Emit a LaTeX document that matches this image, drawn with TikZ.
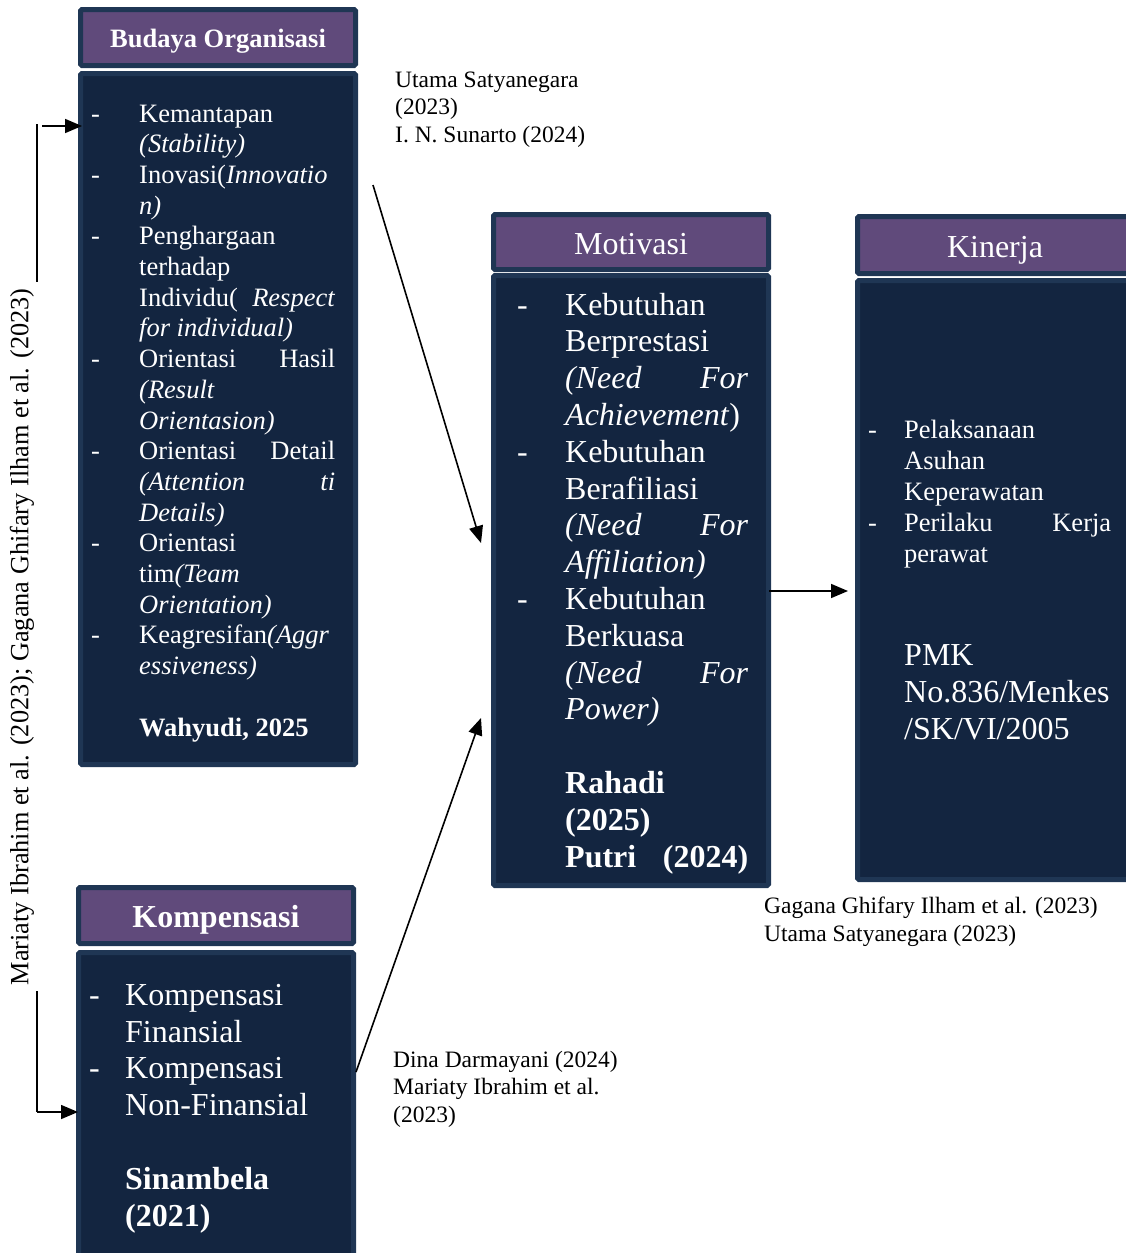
\documentclass[tikz,border=0pt]{standalone}
\usepackage{fontspec}
\setmainfont{Liberation Serif}
\usetikzlibrary{arrows.meta}
\definecolor{hdrfill}{RGB}{96,74,123}
\definecolor{navyline}{RGB}{31,54,84}
\definecolor{bodyfill}{RGB}{19,37,64}
\newcommand\dsh[1]{\makebox[#1][l]{-}}
\newcommand\ind[1]{\hspace*{#1}}
\begin{document}
\begin{tikzpicture}[x=1pt,y=-1pt,
  hdr/.style={draw=navyline, fill=hdrfill, line width=5pt, rounded corners=1.5pt,
    text=white, inner sep=0pt, text depth=0pt},
  bodybox/.style={draw=navyline, fill=bodyfill, line width=5pt, rounded corners=1.5pt,
    inner sep=0pt},
  txt/.style={text=white, inner sep=0pt, align=left, anchor=base west},
  cite/.style={inner sep=0pt, align=left, anchor=base west,
    font=\fontsize{23.5}{27.5}\selectfont},
  conn/.style={line width=1.6pt, -{Triangle[length=17pt,width=14pt]}},
  bracket/.style={line width=1.6pt}]
\useasboundingbox (0,0) rectangle (1126,1253);

% Budaya Organisasi
\node[hdr, minimum width=275pt, minimum height=56pt, text height=20pt,
  font=\fontsize{26.5}{30}\selectfont\bfseries] (bh) at (218,37.5) {Budaya Organisasi};
\node[bodybox, minimum width=275pt, minimum height=691pt] (bb) at (218,419) {};
\node[txt, font=\fontsize{26.5}{30.7}\selectfont] (bt) at (91,736) {%
\dsh{48pt}Kemantapan\\
\ind{48pt}\textit{(Stability)}\\
\dsh{48pt}Inovasi(\textit{Innovatio}\\
\ind{48pt}\textit{n)}\\
\dsh{48pt}Penghargaan\\
\ind{48pt}terhadap\\
\ind{48pt}\makebox[196pt][s]{Individu(\textit{ Respect}}\\
\ind{48pt}\textit{for individual)}\\
\dsh{48pt}\makebox[196pt][s]{Orientasi Hasil}\\
\ind{48pt}\textit{(Result}\\
\ind{48pt}\textit{Orientasion)}\\
\dsh{48pt}\makebox[196pt][s]{Orientasi Detail}\\
\ind{48pt}\makebox[196pt][s]{\textit{(Attention ti}}\\
\ind{48pt}\textit{Details)}\\
\dsh{48pt}Orientasi\\
\ind{48pt}tim\textit{(Team}\\
\ind{48pt}\textit{Orientation)}\\
\dsh{48pt}Keagresifan\textit{(Aggr}\\
\ind{48pt}\textit{essiveness)}\\
\mbox{}\\
\ind{48pt}\textbf{Wahyudi, 2025}};

% Motivasi
\node[hdr, minimum width=275pt, minimum height=55pt, text height=24pt,
  font=\fontsize{32}{36}\selectfont] (mh) at (631,242) {Motivasi};
\node[bodybox, minimum width=275pt, minimum height=610pt] (mb) at (631,580.5) {};
\node[txt, font=\fontsize{32}{36.8}\selectfont] (mt) at (517,867) {%
\dsh{48pt}Kebutuhan\\
\ind{48pt}Berprestasi\\
\ind{48pt}\makebox[183pt][s]{\textit{(Need For}}\\
\ind{48pt}\textit{Achievement})\\
\dsh{48pt}Kebutuhan\\
\ind{48pt}Berafiliasi\\
\ind{48pt}\makebox[183pt][s]{\textit{(Need For}}\\
\ind{48pt}\textit{Affiliation)}\\
\dsh{48pt}Kebutuhan\\
\ind{48pt}Berkuasa\\
\ind{48pt}\makebox[183pt][s]{\textit{(Need For}}\\
\ind{48pt}\textit{Power)}\\
\mbox{}\\
\ind{48pt}\textbf{Rahadi}\\
\ind{48pt}\textbf{(2025)}\\
\ind{48pt}\makebox[183pt][s]{\textbf{Putri (2024)}}};

% Kinerja
\node[hdr, minimum width=275pt, minimum height=57pt, text height=24pt,
  font=\fontsize{32}{36}\selectfont] (kh) at (995,245) {Kinerja};
\node[bodybox, minimum width=275pt, minimum height=599pt] (kb) at (995,580) {};
\node[txt, font=\fontsize{26.5}{30.8}\selectfont] (kt) at (868,562) {%
\dsh{36pt}Pelaksanaan\\
\ind{36pt}Asuhan\\
\ind{36pt}Keperawatan\\
\dsh{36pt}\makebox[207pt][s]{Perilaku Kerja}\\
\ind{36pt}perawat};
\node[txt, font=\fontsize{32}{36.8}\selectfont] (kp) at (904,739) {%
PMK\\
No.836/Menkes\\
/SK/VI/2005};

% Kompensasi
\node[hdr, minimum width=275pt, minimum height=56pt, text height=24pt,
  font=\fontsize{32}{36}\selectfont\bfseries] (ph) at (216,915.5) {Kompensasi};
\node[bodybox, minimum width=275pt, minimum height=315pt] (pb) at (216,1110) {};
\node[txt, font=\fontsize{32}{36.8}\selectfont] (pt) at (89,1226) {%
\dsh{36pt}Kompensasi\\
\ind{36pt}Finansial\\
\dsh{36pt}Kompensasi\\
\ind{36pt}Non-Finansial\\
\mbox{}\\
\ind{36pt}\textbf{Sinambela}\\
\ind{36pt}\textbf{(2021)}};

% Source notes
\node[cite] (c1) at (395,142) {Utama Satyanegara\\(2023)\\I. N. Sunarto (2024)};
\node[cite] (c2) at (764,941) {Gagana Ghifary Ilham et al. (2023)\\Utama Satyanegara (2023)};
\node[cite] (c3) at (393,1122) {Dina Darmayani (2024)\\Mariaty Ibrahim et al.\\(2023)};
\node[inner sep=0pt, rotate=90, font=\fontsize{26.3}{30}\selectfont] (side) at (22,637)
  {Mariaty Ibrahim et al. (2023); Gagana Ghifary Ilham et al. (2023)};

% Connectors
\coordinate (a1s) at (373,185);
\coordinate (a1e) at (481,543);
\coordinate (a2e) at (481,718);
\coordinate (a2s) at (356,1072);
\coordinate (a3s) at (769,591);
\coordinate (a3e) at (848,591);
\draw[conn] (a1s) -- (a1e);
\draw[conn] (a2s) -- (a2e);
\draw[conn] (a3s) -- (a3e);

% Side bracket
\coordinate (bt1) at (37,124);
\coordinate (bt2) at (37,282);
\coordinate (bt3) at (42,126);
\coordinate (bt4) at (82,126);
\coordinate (bb1) at (37,991);
\coordinate (bb2) at (37,1112);
\coordinate (bb4) at (78,1112);
\draw[bracket] (bt1) -- (bt2);
\draw[conn] (bt3) -- (bt4);
\draw[bracket] (bb1) -- (bb2);
\draw[conn] (bb2) -- (bb4);
\end{tikzpicture}
\end{document}
